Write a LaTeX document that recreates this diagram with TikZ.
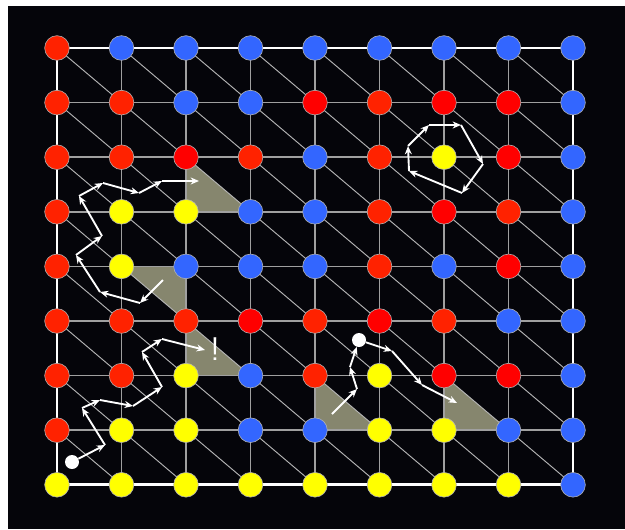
\documentclass[tikz,border=0pt]{standalone}
\usetikzlibrary{arrows.meta}
\definecolor{bgblack}{HTML}{05050A}
\definecolor{cO}{HTML}{FF2200}
\definecolor{cP}{HTML}{FF0000}
\definecolor{cB}{HTML}{3366FF}
\definecolor{cY}{HTML}{FFFF00}
\definecolor{wedge}{HTML}{86866E}
\definecolor{gridgray}{HTML}{A0A0A0}
\definecolor{diaggray}{HTML}{B4B4B4}

\begin{document}
\begin{tikzpicture}[x=0.03cm,y=-0.03cm,
    site/.style={circle,draw=white!70!black,line width=0.5pt,minimum size=0.74cm,inner sep=0pt},
    spot/.style={circle,fill=white,minimum size=0.42cm,inner sep=0pt},
    walk/.style={white,line width=1.6pt,-{Stealth[length=2.5mm,width=2.1mm]}}]
  \fill[white](0,0)rectangle(625,529);
  \fill[bgblack](8,6)rectangle(625,529);
  % lattice points
  \foreach \i in {0,...,8}\foreach \j in {0,...,8}\coordinate(p-\i-\j)at({57+64.5*\i},{48+54.6*\j});
  % shaded half cells
  \fill[wedge](p-2-2)--(p-2-3)--(p-3-3)--cycle;
  \fill[wedge](p-1-4)--(p-2-4)--(p-2-5)--cycle;
  \fill[wedge](p-2-5)--(p-2-6)--(p-3-6)--cycle;
  \fill[wedge](p-4-6)--(p-4-7)--(p-5-7)--cycle;
  \fill[wedge](p-6-6)--(p-6-7)--(p-7-7)--cycle;
  % bonds
  \foreach \i/\k in {0/1,1/2,2/3,3/4,4/5,5/6,6/7,7/8}{
    \foreach \j in {0,...,8}{
      \draw[gridgray,line width=1.3pt](p-\i-\j)--(p-\k-\j);
      \draw[gridgray,line width=1.3pt](p-\j-\i)--(p-\j-\k);}
    \foreach \jj/\kk in {0/1,1/2,2/3,3/4,4/5,5/6,6/7,7/8}
      \draw[diaggray,line width=0.8pt](p-\i-\jj)--(p-\k-\kk);}
  \draw[white,line width=2.4pt](p-0-0)rectangle(p-8-8);
  % spins
  \foreach \row [count=\j from 0] in {{O,B,B,B,B,B,B,B,B},{O,O,B,B,P,O,P,P,B},{O,O,P,O,B,O,Y,P,B},
      {O,Y,Y,B,B,O,P,O,B},{O,Y,B,B,B,O,B,P,B},{O,O,O,P,O,P,O,B,B},{O,O,Y,B,O,Y,P,P,B},
      {O,Y,Y,B,B,Y,Y,B,B},{Y,Y,Y,Y,Y,Y,Y,Y,B}}
    \foreach \c [count=\i from 0] in \row \node[site,fill=c\c](n-\i-\j)at(p-\i-\j){};
  % walkers
  \node[spot](s1)at(72,462){};
  \node[spot](s2)at(359,340){};
  \node[white,font=\sffamily\fontsize{28}{28}\selectfont](bang)at(215,349){!};
  \coordinate(a1)at(163,280); \coordinate(a2)at(140,303); \coordinate(a3)at(100,292);
  \coordinate(a4)at(76,255);  \coordinate(a5)at(102,236); \coordinate(a6)at(79,196);
  \coordinate(a7)at(103,183); \coordinate(a8)at(139,193); \coordinate(a9)at(162,181);
  \coordinate(a10)at(199,181);
  \foreach \u/\v in {a1/a2,a2/a3,a3/a4,a4/a5,a5/a6,a6/a7,a7/a8,a8/a9,a9/a10}\draw[walk](\u)--(\v);
  \coordinate(b2)at(105,445); \coordinate(b3)at(82,408);  \coordinate(b4)at(100,400);
  \coordinate(b5)at(133,406); \coordinate(b6)at(162,387); \coordinate(b7)at(142,352);
  \coordinate(b8)at(162,339); \coordinate(b9)at(205,350);
  \foreach \u/\v in {s1/b2,b2/b3,b3/b4,b4/b5,b5/b6,b6/b7,b7/b8,b8/b9}\draw[walk](\u)--(\v);
  \coordinate(c1)at(332,414); \coordinate(c2)at(357,389); \coordinate(c3)at(350,367);
  \coordinate(c5)at(392,351); \coordinate(c6)at(422,385); \coordinate(c7)at(457,403);
  \foreach \u/\v in {c1/c2,c2/c3,c3/s2,s2/c5,c5/c6,c6/c7}\draw[walk](\u)--(\v);
  \coordinate(e1)at(429,125); \coordinate(e2)at(461,125); \coordinate(e3)at(483,164);
  \coordinate(e4)at(462,193); \coordinate(e5)at(409,171); \coordinate(e6)at(408,146);
  \foreach \u/\v in {e1/e2,e2/e3,e3/e4,e4/e5,e5/e6,e6/e1}\draw[walk](\u)--(\v);
\end{tikzpicture}
\end{document}
